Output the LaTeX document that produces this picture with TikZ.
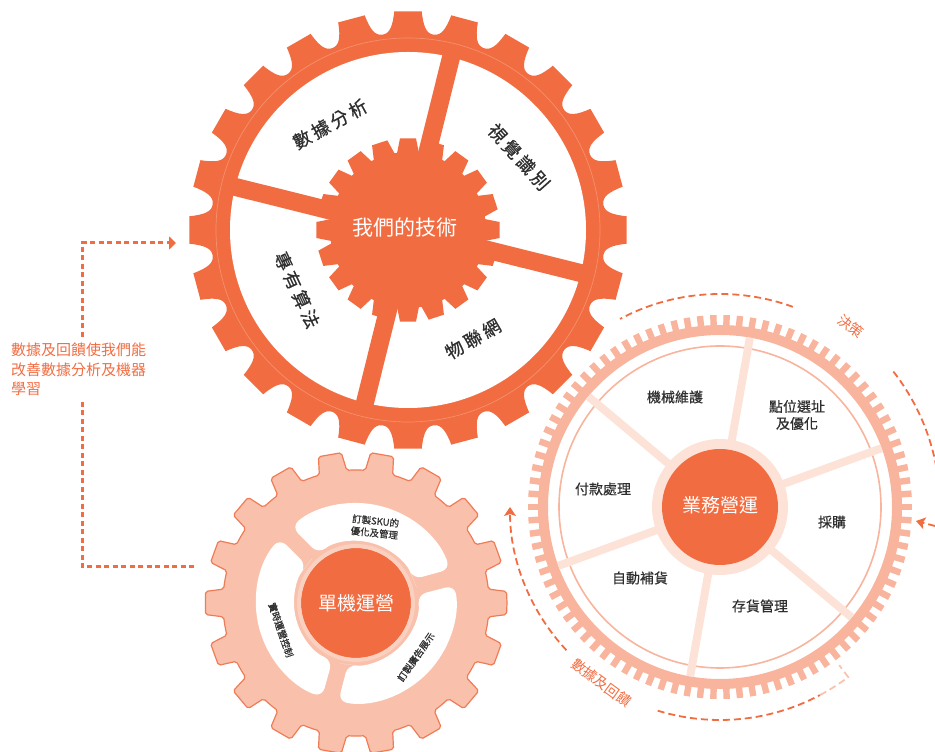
\documentclass[tikz,border=0pt]{standalone}
\usepackage{fontspec}
\setmainfont{Noto Sans CJK TC}
\newfontfamily\cjkwide[LetterSpace=18,FakeBold=0.6]{Noto Sans CJK TC}
\newfontfamily\cjkmed[FakeBold=0.5]{Noto Sans CJK TC}
\usetikzlibrary{arrows.meta}
\definecolor{gearorange}{HTML}{F26C41}
\definecolor{gearline}{HTML}{F5906C}
\definecolor{salmonfill}{HTML}{F9C1AB}
\definecolor{salmonline}{HTML}{F07B57}
\definecolor{ringsalmon}{HTML}{F8B49D}
\definecolor{palespoke}{HTML}{FDE2D7}
\definecolor{palering}{HTML}{FAD0C0}
\definecolor{darktext}{HTML}{2E2E2E}
\definecolor{fadedash}{HTML}{F9C3AF}
\tikzset{
  toplabel/.style={text=darktext, font=\cjkwide\fontsize{18}{20}\selectfont, inner sep=0pt},
  rightlabel/.style={text=darktext, font=\cjkmed\fontsize{14}{17}\selectfont, inner sep=0pt, align=center},
  smalllabel/.style={text=darktext, font=\cjkmed\fontsize{9.5}{12}\selectfont, inner sep=0pt, align=center},
  hublabel/.style={text=white, inner sep=0pt},
  arclabel/.style={text=gearorange, font=\fontsize{14}{16}\selectfont, inner sep=0pt},
  cycledash/.style={draw=gearorange, line width=1.8pt, dash pattern=on 7pt off 4pt},
  dotline/.style={draw=gearorange, line width=3pt, dash pattern=on 5pt off 3.5pt},
  tipstyle/.style={-{Stealth[length=9pt, width=12pt, inset=2pt]}},
}
\begin{document}
\begin{tikzpicture}[x=1pt,y=1pt]
\useasboundingbox (0,0) rectangle (935,752);

% ---------- right gear ----------
\begin{scope}[shift={(720,245)}]
  \foreach \i in {0,...,89} \fill[ringsalmon, rotate=\i*4] (180,-3.2) rectangle (192,3.2);
  \draw[ringsalmon, line width=10pt] (0,0) circle[radius=177];
  \draw[ringsalmon, line width=1.6pt] (0,0) circle[radius=161];
  \foreach \a in {20,80,...,320} \draw[palespoke, line width=8pt] (0,0) -- (\a:172);
  \fill[palespoke] (0,0) circle[radius=68];
  \fill[gearorange] (0,0) circle[radius=58];
  % dashed cycle arcs
  \draw[cycledash] (70:213) arc[start angle=70, end angle=118, radius=213];
  \draw[cycledash] (38:220) arc[start angle=38, end angle=10, radius=220];
  \draw[cycledash, tipstyle] (223:210) arc[start angle=223, end angle=180, radius=210];
  \draw[cycledash] (253:213) arc[start angle=253, end angle=298, radius=213];
  \draw[cycledash, draw=fadedash] (298:213) arc[start angle=298, end angle=307, radius=213] -- (307:198);
  \node[arclabel, rotate=-36] (dec) at (54:223) {決策};
  \node[arclabel, rotate=-36] (fbk) at (236:212) {數據及回饋};
\end{scope}

% ---------- top gear ----------
\begin{scope}[shift={(408,522)}]
  \fill[gearorange] (-3.6:219)
    \foreach \i in {0,...,23}{
      -- ({\i*15-3.6}:219) -- ({\i*15+3.6}:219)
      .. controls ({\i*15+4.3}:204) and ({\i*15+5.4}:197) .. ({\i*15+7.5}:197)
      .. controls ({\i*15+9.6}:197) and ({\i*15+10.7}:204) .. ({\i*15+11.4}:219)
    } -- cycle;
  \fill[white] (0,0) circle[radius=178];
  \draw[gearline, line width=0.7pt] (0,0) circle[radius=192];
  \foreach \a in {76,166,256,346} \fill[gearorange, rotate=\a] (0,-9) rectangle (186,9);
  \fill[gearorange] (-8:78)
    \foreach \i in {0,...,19}{
      -- ({\i*18-8}:78) -- ({\i*18-5}:92) -- ({\i*18+5}:92) -- ({\i*18+8}:78)
    } -- cycle;
\end{scope}

% ---------- bottom gear ----------
\begin{scope}[shift={(356,149)}]
  \filldraw[fill=salmonfill, draw=salmonline, line width=1.2pt, rounded corners=2pt] (0:151)
    \foreach \i in {0,...,17}{
      -- ({\i*20+4.4}:151) -- ({\i*20+6}:133)
      arc[start angle={\i*20+6}, end angle={\i*20+14}, radius=133]
      -- ({\i*20+15.6}:151)
    } -- cycle;
  \foreach \s in {15,135,255}
    \fill[white, rounded corners=9pt] ({\s+7.5}:62) -- ({\s+4.8}:100)
      arc[start angle={\s+4.8}, end angle={\s+115.2}, radius=100]
      -- ({\s+112.5}:62)
      arc[start angle={\s+112.5}, end angle={\s+8}, radius=62] -- cycle;
  \fill[gearorange] (0,0) circle[radius=55];
  \draw[palering, line width=4pt] (0,0) circle[radius=57];
\end{scope}

% ---------- labels ----------
\node[toplabel, rotate=29] (da) at (330,628) {數據分析};
\node[toplabel, rotate=-48] (vr) at (519,595) {視覺識別};
\node[toplabel, rotate=-65] (pa) at (297,462) {專有算法};
\node[toplabel, rotate=30] (iot) at (473,413) {物聯網};
\node[hublabel, font=\fontsize{21}{24}\selectfont] (tech) at (405,524) {我們的技術};

\node[smalllabel, rotate=-6] (sku) at (375,225) {訂製SKU的\\優化及管理};
\node[smalllabel, rotate=-71] (rt) at (281,122) {實時運營控制};
\node[smalllabel, rotate=55] (ad) at (416,95) {訂製廣告展示};
\node[hublabel, font=\fontsize{19}{22}\selectfont] (single) at (356,149) {單機運營};

\node[rightlabel] (mm) at (675,355) {機械維護};
\node[rightlabel] (site) at (797,337) {點位選址\\及優化};
\node[rightlabel] (pay) at (603,263) {付款處理};
\node[rightlabel] (buy) at (832,230) {採購};
\node[rightlabel] (auto) at (640,174) {自動補貨};
\node[rightlabel] (inv) at (760,146) {存貨管理};
\node[hublabel, font=\fontsize{19}{22}\selectfont] (ops) at (720,247) {業務營運};

% ---------- right incoming arrow ----------
\coordinate (rin) at (935,226);
\coordinate (rtip) at (916,231);
\draw[cycledash, tipstyle] (rin) -- (rtip);

% ---------- left feedback connector ----------
\node[text=gearorange, font=\fontsize{15}{19.5}\selectfont, align=left, anchor=north west, inner sep=0pt] (learn) at (11,409) {數據及回饋使我們能\\改善數據分析及機器\\學習};
\coordinate (lt) at (82,415);
\coordinate (lb) at (82,350);
\coordinate (toparrow) at (176,509);
\coordinate (botend) at (196,185);
\draw[dotline, -{Triangle[length=7pt,width=13pt]}] (lt) |- (toparrow);
\draw[dotline] (lb) |- (botend);
\end{tikzpicture}
\end{document}
